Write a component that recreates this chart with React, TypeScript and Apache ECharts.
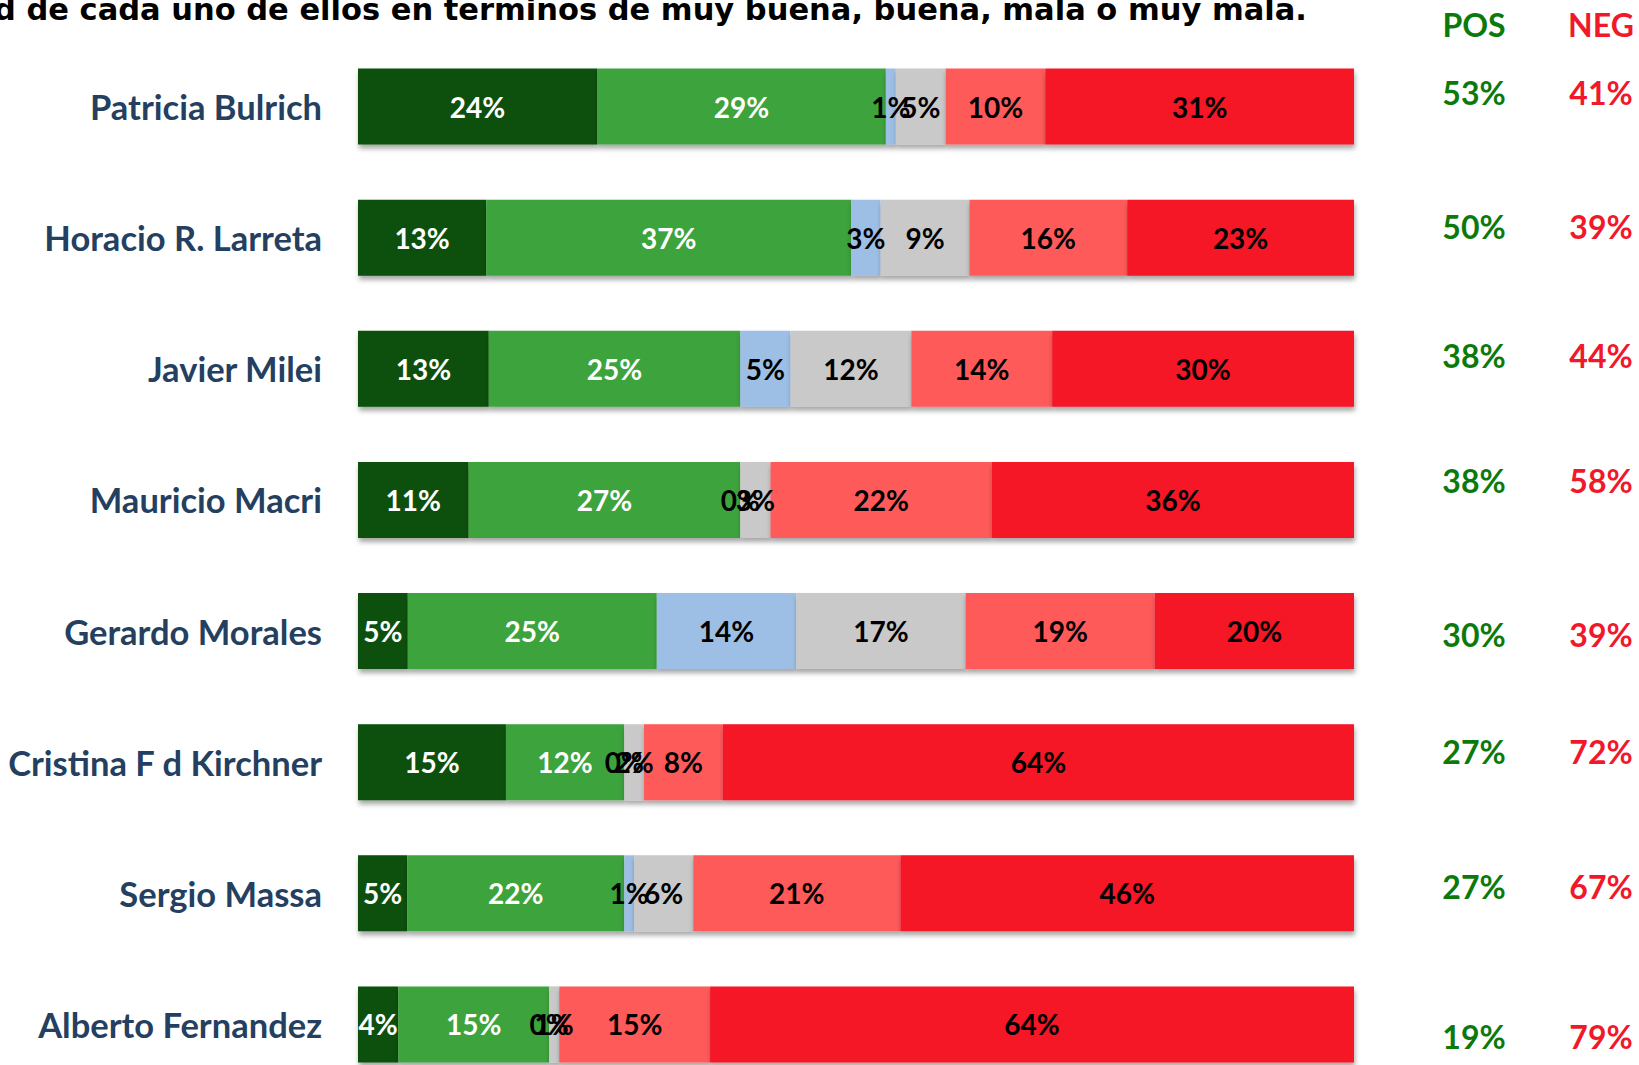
import React, { useEffect, useRef } from "react";
import * as echarts from "echarts";

const names = [
  "Patricia Bulrich",
  "Horacio R. Larreta",
  "Javier Milei",
  "Mauricio Macri",
  "Gerardo Morales",
  "Cristina F d Kirchner",
  "Sergio Massa",
  "Alberto Fernandez",
];
const muyBuena = [24, 13, 13, 11, 5, 15, 5, 4];
const buena = [29, 37, 25, 27, 25, 12, 22, 15];
const nsnc = [1, 3, 5, 0, 14, 0, 1, 0];
const regular = [5, 9, 12, 3, 17, 2, 6, 1];
const mala = [10, 16, 14, 22, 19, 8, 21, 15];
const muyMala = [31, 23, 30, 36, 20, 64, 46, 64];
const pos = [53, 50, 38, 38, 30, 27, 27, 19];
const neg = [41, 39, 44, 58, 39, 72, 67, 79];
const posNegY = [92, 226, 355, 480, 634, 751, 886, 1036];

const title = "d de cada uno de ellos en terminos de muy buena, buena, mala o muy mala.";

const allSeries = [muyBuena, buena, nsnc, regular, mala, muyMala];
// 100% stacked bar: each row is shown as share of its own total
const rowTotals = names.map((_, i) => allSeries.reduce((s, arr) => s + arr[i], 0));

export default function App() {
  const ref = useRef<HTMLDivElement>(null);
  useEffect(() => {
    if (!ref.current) return;
    const chart = echarts.init(ref.current, undefined, { renderer: "svg" });
    const labelFont = "Lato";
    const mk = (name: string, data: number[], color: string, textColor: string) => ({
      name,
      type: "bar",
      stack: "t",
      data: data.map((v, i) => ({ value: (v / rowTotals[i]) * 100, raw: v })),
      barWidth: "58%",
      itemStyle: {
        color,
        shadowColor: "rgba(0,0,0,0.35)",
        shadowBlur: 5,
        shadowOffsetY: 4,
        shadowOffsetX: 1,
      },
      label: {
        show: true,
        position: "inside",
        formatter: (p: any) => p.data.raw + "%",
        color: textColor,
        fontFamily: labelFont,
        fontWeight: "bold",
        fontSize: 28,
      },
    });
    const graphics: any[] = [
      {
        type: "text",
        x: -6,
        y: 9,
        style: {
          text: title,
          font: "bold 30.5px 'DejaVu Sans'",
          fill: "#000",
          verticalAlign: "middle",
        },
      },
      {
        type: "text",
        x: 1474,
        y: 24,
        style: { text: "POS", font: "bold 32px Lato", fill: "#0B7A0B", align: "center", verticalAlign: "middle" },
      },
      {
        type: "text",
        x: 1601,
        y: 24,
        style: { text: "NEG", font: "bold 32px Lato", fill: "#F0182A", align: "center", verticalAlign: "middle" },
      },
    ];
    pos.forEach((p, i) => {
      graphics.push({
        type: "text",
        x: 1474,
        y: posNegY[i],
        style: { text: p + "%", font: "bold 32px Lato", fill: "#0B7A0B", align: "center", verticalAlign: "middle" },
      });
      graphics.push({
        type: "text",
        x: 1601,
        y: posNegY[i],
        style: { text: neg[i] + "%", font: "bold 32px Lato", fill: "#F0182A", align: "center", verticalAlign: "middle" },
      });
    });
    chart.setOption({
      animation: false,
      backgroundColor: "#ffffff",
      grid: { left: 358, right: 285, top: 41, bottom: 10, containLabel: false },
      xAxis: { type: "value", min: 0, max: 100, show: false },
      yAxis: {
        type: "category",
        data: names,
        inverse: true,
        axisLine: { show: false },
        axisTick: { show: false },
        axisLabel: {
          margin: 36,
          color: "#243F60",
          fontFamily: labelFont,
          fontWeight: "bold",
          fontSize: 34.5,
        },
      },
      series: [
        mk("Muy buena", muyBuena, "#074F07", "#ffffff"),
        mk("Buena", buena, "#3CA33C", "#ffffff"),
        mk("Ns/Nc", nsnc, "#9DBFE5", "#000000"),
        mk("Regular", regular, "#C9C9C9", "#000000"),
        mk("Mala", mala, "#FF5A5A", "#000000"),
        mk("Muy mala", muyMala, "#F51426", "#000000"),
      ],
      graphic: graphics,
    });
    return () => chart.dispose();
  }, []);
  return (
    <div style={{ position: "fixed", left: 0, top: 0, width: 1639, height: 1065, overflow: "hidden", background: "#fff" }}>
      <div ref={ref} style={{ width: 1639, height: 1100 }} />
    </div>
  );
}
